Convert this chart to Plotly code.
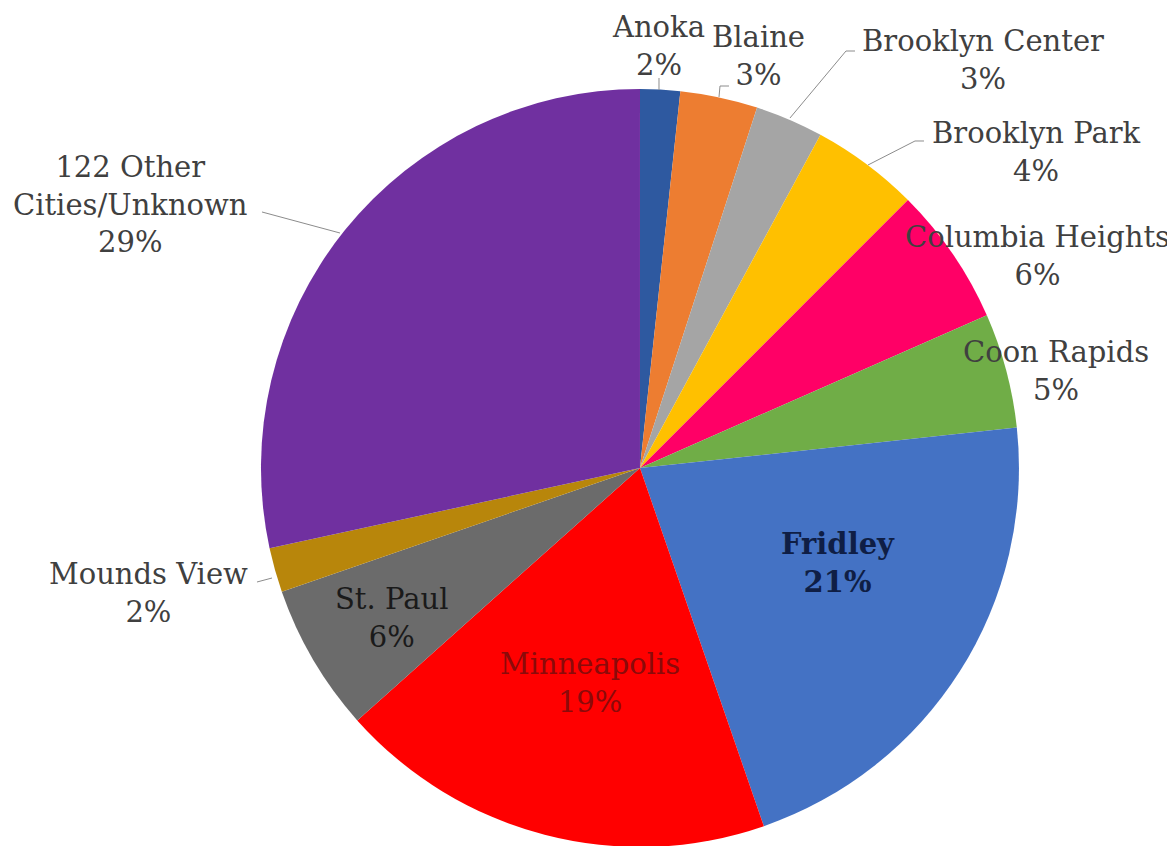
import plotly.graph_objects as go

# ---- data ----
cities = ["Anoka", "Blaine", "Brooklyn Center", "Brooklyn Park", "Columbia Heights",
          "Coon Rapids", "Fridley", "Minneapolis", "St. Paul", "Mounds View",
          "122 Other<br>Cities/Unknown"]
slice_share = [1.7, 3.3, 2.9, 4.6, 5.9, 4.9, 21.4, 18.7, 6.3, 1.9, 28.4]
pct_labels = ["2%", "3%", "3%", "4%", "6%", "5%", "21%", "19%", "6%", "2%", "29%"]

# ---- styles ----
colors = ["#2E59A0", "#ED7D31", "#A5A5A5", "#FFC000", "#FF0066", "#70AD47",
          "#4472C4", "#FF0000", "#6B6B6B", "#B8860B", "#7030A0"]

W, H = 1175, 846
OFF = 8  # page body margin
FONT = "DejaVu Serif"


def px(x, y):
    return (x - OFF) / W, 1 - (y - OFF) / H


fig = go.Figure()
fig.add_trace(go.Pie(
    labels=cities,
    values=slice_share,
    sort=False,
    direction="clockwise",
    rotation=0,
    marker=dict(colors=colors, line=dict(width=0)),
    textinfo="none",
    hoverinfo="label+percent",
    showlegend=False,
    domain=dict(x=[0.2153, 0.8604], y=[0.0083, 0.9043]),
))

# label placement (pixel centres) and styles
label_pos = [(658, 46), (758, 56), (983, 60), (1036, 152), (1037, 256),
             (1056, 371), (838, 563), (590, 683), (391, 618), (148, 593), (130, 205)]
label_color = ["#404040"] * 6 + ["#0F1E45", "#8B0A0A", "#1A1A1A", "#404040", "#404040"]
label_bold = [False] * 6 + [True] + [False] * 4

for name, pct, (lx, ly), col, bold in zip(cities, pct_labels, label_pos, label_color, label_bold):
    x, y = px(lx, ly)
    txt = f"{name}<br>{pct}"
    if bold:
        txt = f"<b>{name}<br>{pct}</b>"
    fig.add_annotation(
        x=x, y=y, xref="paper", yref="paper", text=txt, showarrow=False,
        xanchor="center", yanchor="middle", align="center",
        font=dict(family=FONT, size=29, color=col),
    )

# leader lines (pixel paths)
leaders = [
    [(659, 78), (659, 90)],
    [(719, 97), (720, 86), (729, 86)],
    [(790, 118), (846, 51), (855, 51)],
    [(868, 165), (915, 141), (924, 141)],
    [(272, 578), (257, 582)],
    [(340, 233), (262, 212)],
]
for pts in leaders:
    path = ""
    for i, (a, b) in enumerate(pts):
        x, y = px(a, b)
        path += ("M" if i == 0 else " L") + f" {x:.5f} {y:.5f}"
    fig.add_shape(type="path", path=path, xref="paper", yref="paper",
                  line=dict(color="#8C8C8C", width=1))

fig.update_layout(
    width=W, height=H,
    margin=dict(l=0, r=0, t=0, b=0),
    paper_bgcolor="white",
    plot_bgcolor="white",
    font=dict(family=FONT),
)

fig.write_html("out.html")
